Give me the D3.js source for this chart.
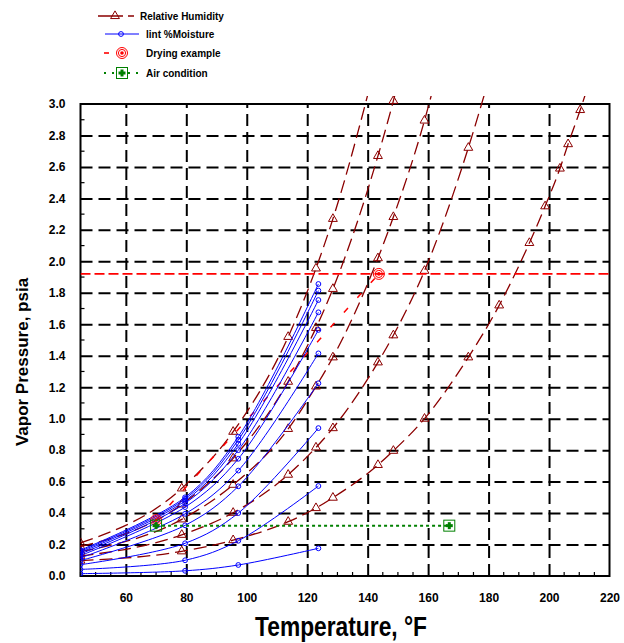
<!DOCTYPE html>
<html><head><meta charset="utf-8">
<script src="https://cdn.jsdelivr.net/npm/d3@7"></script>
<style>
body{margin:0;background:#fff}
text{font-family:"Liberation Sans",Arial,Helvetica,sans-serif;font-weight:bold;fill:#000}
</style>
</head><body>
<svg id="chart" width="624" height="643"></svg>
<script>
// ---------------- data ----------------
const xTicks = [60, 80, 100, 120, 140, 160, 180, 200, 220];
const yTicks = [0.0, 0.2, 0.4, 0.6, 0.8, 1.0, 1.2, 1.4, 1.6, 1.8, 2.0, 2.2, 2.4, 2.6, 2.8, 3.0];

// Relative humidity curves: temperatures (°F) of the marked points
const rhTemps = [45, 78.5, 95.5, 113.7, 122.9, 128.5, 143.4, 148.5, 158.8, 173.3, 183.5, 193.5, 198.7, 203.6, 206.3, 210.3, 212.5];
const rh100 = [0.210, 0.557, 0.917, 1.520, 1.955, 2.270, 3.310];
const rh80  = [0.186, 0.455, 0.748, 1.235, 1.577, 1.825, 2.670, 3.020, 3.860];
const rh60  = [0.155, 0.360, 0.580, 0.935, 1.205, 1.390, 2.020, 2.282, 2.895, 4.070];
const rh40  = [0.126, 0.262, 0.402, 0.644, 0.817, 0.940, 1.358, 1.530, 1.940, 2.722, 3.390];
const rh20  = [0.098, 0.157, 0.228, 0.345, 0.432, 0.498, 0.706, 0.796, 1.000, 1.390, 1.720, 2.117, 2.350, 2.590, 2.745, 2.962, 3.090];
const rhSeries = [rh100, rh80, rh60, rh40, rh20];

// Lint moisture curves: temperatures of the marked points
const lintTemps = [45, 79.6, 97.2, 123.7];
const lint1  = [0.165, 0.500, 0.885, 1.856];
const lint2  = [0.158, 0.490, 0.865, 1.814];
const lint3  = [0.150, 0.478, 0.840, 1.754];
const lint4  = [0.140, 0.462, 0.800, 1.676];
const lint5  = [0.130, 0.438, 0.745, 1.564];
const lint6  = [0.115, 0.395, 0.670, 1.415];
const lint7  = [0.098, 0.322, 0.570, 1.225];
const lint8  = [0.072, 0.208, 0.400, 0.940];
const lint9  = [0.042, 0.100, 0.224, 0.572];
const lint10 = [0.015, 0.033, 0.070, 0.176];
const lintSeries = [lint1, lint2, lint3, lint4, lint5, lint6, lint7, lint8, lint9, lint10];

// Drying example
const dryTemps = [70, 143.7];
const dryVals  = [0.355, 1.92];
const dryLineTemps = [45, 220];
const dryLineVals  = [1.92, 1.92];

// Air condition
const airTemps = [70, 167];
const airVals  = [0.32, 0.32];

const legendLabels = ["Relative Humidity", "lint %Moisture", "Drying example", "Air condition"];

// ---------------- drawing ----------------
const svg = d3.select("#chart");
const x = d3.scaleLinear().domain([45, 220]).range([80.5, 609.5]);
const y = d3.scaleLinear().domain([0, 3]).range([576, 104]);
const W = x.range()[1] - x.range()[0], H = y.range()[0] - y.range()[1];

const DR = "#8b0000", BL = "#0000ff", RD = "#ff0000", GR = "#008000";

// grid
const gx = svg.append("g").attr("transform", `translate(0,${y(0)})`)
  .call(d3.axisBottom(x).tickValues(xTicks.filter(t => t < 220)).tickSize(-H).tickFormat(""));
gx.select(".domain").remove();
gx.selectAll("line").attr("stroke", "#000").attr("stroke-width", 2).attr("stroke-dasharray", "12,6");
const gy = svg.append("g").attr("transform", `translate(${x(45)},0)`)
  .call(d3.axisLeft(y).tickValues(yTicks.filter(t => t > 0 && t < 3)).tickSize(-W).tickFormat(""));
gy.select(".domain").remove();
gy.selectAll("line").attr("stroke", "#000").attr("stroke-width", 2).attr("stroke-dasharray", "12,6");

// minor ticks
const minorX = d3.range(45, 220, 5).filter(t => t % 20 !== 0);
svg.append("g").selectAll("line").data(minorX).join("line")
  .attr("x1", d => x(d)).attr("x2", d => x(d)).attr("y1", y(0)).attr("y2", y(0) - 4)
  .attr("stroke", "#000").attr("stroke-width", 1.2);
const minorY = d3.range(1, 30, 2).map(v => v / 10);
svg.append("g").selectAll("line").data(minorY).join("line")
  .attr("x1", x(45)).attr("x2", x(45) + 4).attr("y1", d => y(d)).attr("y2", d => y(d))
  .attr("stroke", "#000").attr("stroke-width", 1.2);

// frame
svg.append("rect").attr("x", x(45)).attr("y", y(3)).attr("width", W).attr("height", H)
  .attr("fill", "none").attr("stroke", "#000").attr("stroke-width", 2);

// tick labels via axes
const ax = svg.append("g").attr("transform", `translate(0,${y(0)})`)
  .call(d3.axisBottom(x).tickValues(xTicks).tickSize(0).tickPadding(17).tickFormat(d3.format("d")));
ax.select(".domain").remove();
ax.selectAll("text").attr("font-size", 12).attr("font-family", null).style("font-weight", "bold").attr("fill", "#000");
const ay = svg.append("g").attr("transform", `translate(${x(45)},0)`)
  .call(d3.axisLeft(y).tickValues(yTicks).tickSize(0).tickPadding(15).tickFormat(d3.format(".1f")));
ay.select(".domain").remove();
ay.selectAll("text").attr("font-size", 12).attr("font-family", null).style("font-weight", "bold").attr("fill", "#000");

// clip (curves are cut a little above the frame)
svg.append("clipPath").attr("id", "clip").append("rect")
  .attr("x", x(45)).attr("y", y(3) - 8).attr("width", W + 2).attr("height", H + 8);
const plot = svg.append("g").attr("clip-path", "url(#clip)");

const line = d3.line().x(d => x(d[0])).y(d => y(d[1])).curve(d3.curveMonotoneX);
const tri = d3.symbol().type(d3.symbolTriangle).size(34);

// RH curves
rhSeries.forEach(vals => {
  const pts = vals.map((v, i) => [rhTemps[i], v]);
  plot.append("path").attr("d", line(pts)).attr("fill", "none")
    .attr("stroke", DR).attr("stroke-width", 1.3).attr("stroke-dasharray", "13,6");
  plot.selectAll(null).data(pts.filter(p => p[1] <= 3.02)).join("path")
    .attr("d", tri).attr("transform", d => `translate(${x(d[0])},${y(d[1])})`)
    .attr("fill", "none").attr("stroke", DR).attr("stroke-width", 1);
});

// drying diagonal (mostly behind the blue curves)
plot.append("path").attr("d", d3.line().x(d => x(d[0])).y(d => y(d[1]))(dryTemps.map((t, i) => [t, dryVals[i]])))
  .attr("fill", "none").attr("stroke", RD).attr("stroke-width", 1.5).attr("stroke-dasharray", "6,14");

// lint curves
const lintLine = d3.line().x(d => x(d[0])).y(d => y(d[1])).curve(d3.curveCatmullRom.alpha(0.5));
lintSeries.forEach(vals => {
  const pts = vals.map((v, i) => [lintTemps[i], v]);
  plot.append("path").attr("d", lintLine(pts)).attr("fill", "none")
    .attr("stroke", BL).attr("stroke-width", 1);
  plot.selectAll(null).data(pts).join("circle")
    .attr("cx", d => x(d[0])).attr("cy", d => y(d[1])).attr("r", 2.4)
    .attr("fill", "none").attr("stroke", BL).attr("stroke-width", 1);
});

// drying horizontal line
plot.append("path").attr("d", d3.line().x(d => x(d[0])).y(d => y(d[1]))(dryLineTemps.map((t, i) => [t, dryLineVals[i]])))
  .attr("fill", "none").attr("stroke", RD).attr("stroke-width", 1.6).attr("stroke-dasharray", "10,4");

function dryMarker(g, cx, cy) {
  g.append("circle").attr("cx", cx).attr("cy", cy).attr("r", 5.5).attr("fill", "none").attr("stroke", RD).attr("stroke-width", 1);
  g.append("circle").attr("cx", cx).attr("cy", cy).attr("r", 3.6).attr("fill", "none").attr("stroke", RD).attr("stroke-width", 1);
  g.append("circle").attr("cx", cx).attr("cy", cy).attr("r", 1.8).attr("fill", RD);
}
function airMarker(g, cx, cy) {
  g.append("rect").attr("x", cx - 5.5).attr("y", cy - 5.5).attr("width", 11).attr("height", 11)
    .attr("fill", "none").attr("stroke", GR).attr("stroke-width", 1);
  g.append("rect").attr("x", cx - 3.5).attr("y", cy - 1.5).attr("width", 7).attr("height", 3).attr("fill", GR);
  g.append("rect").attr("x", cx - 1.5).attr("y", cy - 3.5).attr("width", 3).attr("height", 7).attr("fill", GR);
}
dryTemps.forEach((t, i) => dryMarker(plot, x(t), y(dryVals[i])));

// air condition
plot.append("path").attr("d", d3.line().x(d => x(d[0])).y(d => y(d[1]))(airTemps.map((t, i) => [t, airVals[i]])))
  .attr("fill", "none").attr("stroke", GR).attr("stroke-width", 2).attr("stroke-dasharray", "3,3");
airTemps.forEach((t, i) => airMarker(plot, x(t), y(airVals[i])));

// axis titles
svg.append("text").attr("x", 341).attr("y", 636).attr("text-anchor", "middle")
  .attr("font-size", 28).attr("textLength", 172).attr("lengthAdjust", "spacingAndGlyphs")
  .text("Temperature, °F");
svg.append("text").attr("transform", "translate(28,362) rotate(-90)").attr("text-anchor", "middle")
  .attr("font-size", 17).text("Vapor Pressure, psia");

// legend
const lg = svg.append("g");
lg.append("line").attr("x1", 98).attr("x2", 134).attr("y1", 16).attr("y2", 16)
  .attr("stroke", DR).attr("stroke-width", 1.3).attr("stroke-dasharray", "25,5,6");
lg.append("path").attr("d", tri).attr("transform", "translate(115,16)").attr("fill", "none").attr("stroke", DR);
lg.append("text").attr("x", 140).attr("y", 20).attr("font-size", 10).text(legendLabels[0]);

lg.append("line").attr("x1", 105).attr("x2", 139).attr("y1", 34).attr("y2", 34).attr("stroke", BL).attr("stroke-width", 1);
lg.append("circle").attr("cx", 121).attr("cy", 34).attr("r", 2.4).attr("fill", "none").attr("stroke", BL);
lg.append("text").attr("x", 146).attr("y", 38).attr("font-size", 10).text(legendLabels[1]);

lg.append("line").attr("x1", 104).attr("x2", 109).attr("y1", 53).attr("y2", 53).attr("stroke", RD).attr("stroke-width", 1.6);
dryMarker(lg, 122, 53);
lg.append("text").attr("x", 146).attr("y", 57).attr("font-size", 10).text(legendLabels[2]);

lg.append("line").attr("x1", 104).attr("x2", 140).attr("y1", 73).attr("y2", 73)
  .attr("stroke", GR).attr("stroke-width", 2).attr("stroke-dasharray", "2,6");
lg.append("rect").attr("x", 116).attr("y", 67).attr("width", 12).attr("height", 12).attr("fill", "#fff");
airMarker(lg, 122, 73);
lg.append("text").attr("x", 146).attr("y", 77).attr("font-size", 10).text(legendLabels[3]);
</script>
</body></html>
